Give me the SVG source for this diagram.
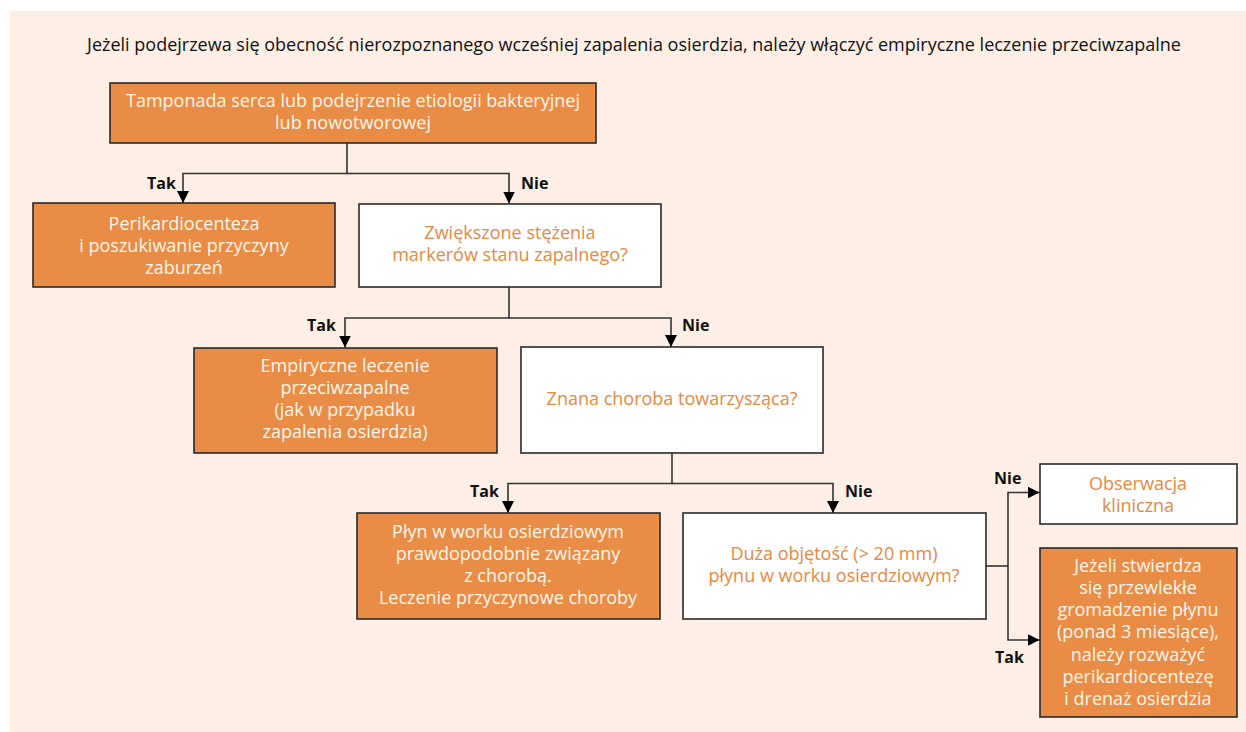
<svg xmlns="http://www.w3.org/2000/svg" width="1246" height="732" viewBox="0 0 1246 732">
<style>
text{font-family:"Open Sans","Noto Sans","Liberation Sans",sans-serif;font-size:18px;text-anchor:middle}
.t{fill:#111}
.w{fill:#FFF6EC}
.o{fill:#E8883F}
.lbl{font-weight:bold;fill:#111;text-anchor:start;font-size:16px}
.bo{fill:#E98C45;stroke:#2a2a2a;stroke-width:1.6}
.bw{fill:#FFFFFF;stroke:#2a2a2a;stroke-width:1.6}
.c{fill:none;stroke:#333;stroke-width:1.6}
</style>
<defs>
<marker id="ah" markerUnits="userSpaceOnUse" markerWidth="12" markerHeight="12" viewBox="0 0 12 12" refX="12" refY="6" orient="auto">
<path d="M0,0 L12,6 L0,12 Z" fill="#000"/>
</marker>
</defs>
<rect x="10" y="11" width="1236" height="721" fill="#FDEFE5"/>
<text class="t" x="634" y="51">Jeżeli podejrzewa się obecność nierozpoznanego wcześniej zapalenia osierdzia, należy włączyć empiryczne leczenie przeciwzapalne</text>

<g id="connectors">
<path class="c" d="M347,143 V173.5 H183 V203" marker-end="url(#ah)"/>
<path class="c" d="M347,173.5 H509 V203.5" marker-end="url(#ah)"/>
<path class="c" d="M509,287 V318 H345 V347.5" marker-end="url(#ah)"/>
<path class="c" d="M509,318 H671 V347" marker-end="url(#ah)"/>
<path class="c" d="M672,453 V483.5 H508 V513" marker-end="url(#ah)"/>
<path class="c" d="M672,483.5 H833 V513" marker-end="url(#ah)"/>
<path class="c" d="M986,566 H1008"/>
<path class="c" d="M1008,566 V492.5 H1039.5" marker-end="url(#ah)"/>
<path class="c" d="M1008,566 V640 H1039.5" marker-end="url(#ah)"/>
<text class="lbl" x="147" y="189">Tak</text>
<text class="lbl" x="521" y="189">Nie</text>
<text class="lbl" x="307" y="331">Tak</text>
<text class="lbl" x="682" y="331">Nie</text>
<text class="lbl" x="470" y="497">Tak</text>
<text class="lbl" x="845" y="497">Nie</text>
<text class="lbl" x="994" y="484">Nie</text>
<text class="lbl" x="995" y="663">Tak</text>
</g>

<g id="n1">
<rect class="bo" x="110" y="83" width="486" height="60"/>
<text class="w" x="353" y="107">Tamponada serca lub podejrzenie etiologii bakteryjnej</text>
<text class="w" x="353" y="129">lub nowotworowej</text>
</g>
<g id="n2">
<rect class="bo" x="33" y="203" width="302" height="84"/>
<text class="w" x="184" y="230">Perikardiocenteza</text>
<text class="w" x="184" y="252">i poszukiwanie przyczyny</text>
<text class="w" x="184" y="274">zaburzeń</text>
</g>
<g id="n3">
<rect class="bw" x="359" y="204" width="302" height="83"/>
<text class="o" x="510" y="239">Zwiększone stężenia</text>
<text class="o" x="510" y="261">markerów stanu zapalnego?</text>
</g>
<g id="n4">
<rect class="bo" x="194" y="348" width="303" height="105"/>
<text class="w" x="345" y="372">Empiryczne leczenie</text>
<text class="w" x="345" y="394">przeciwzapalne</text>
<text class="w" x="345" y="416">(jak w przypadku</text>
<text class="w" x="345" y="438">zapalenia osierdzia)</text>
</g>
<g id="n5">
<rect class="bw" x="521" y="347" width="302" height="106"/>
<text class="o" x="672" y="405">Znana choroba towarzysząca?</text>
</g>
<g id="n6">
<rect class="bo" x="357" y="513" width="303" height="106"/>
<text class="w" x="508" y="538">Płyn w worku osierdziowym</text>
<text class="w" x="508" y="560">prawdopodobnie związany</text>
<text class="w" x="508" y="582">z chorobą.</text>
<text class="w" x="508" y="604">Leczenie przyczynowe choroby</text>
</g>
<g id="n7">
<rect class="bw" x="683" y="513" width="303" height="106"/>
<text class="o" x="834" y="560">Duża objętość (&gt; 20 mm)</text>
<text class="o" x="834" y="582">płynu w worku osierdziowym?</text>
</g>
<g id="n8">
<rect class="bw" x="1040" y="464" width="197" height="60"/>
<text class="o" x="1138" y="490">Obserwacja</text>
<text class="o" x="1138" y="512">kliniczna</text>
</g>
<g id="n9">
<rect class="bo" x="1040" y="548" width="197" height="169"/>
<text class="w" x="1138" y="572">Jeżeli stwierdza</text>
<text class="w" x="1138" y="594">się przewlekłe</text>
<text class="w" x="1138" y="616">gromadzenie płynu</text>
<text class="w" x="1138" y="638">(ponad 3 miesiące),</text>
<text class="w" x="1138" y="661">należy rozważyć</text>
<text class="w" x="1138" y="683">perikardiocentezę</text>
<text class="w" x="1138" y="705">i drenaż osierdzia</text>
</g>
</svg>
